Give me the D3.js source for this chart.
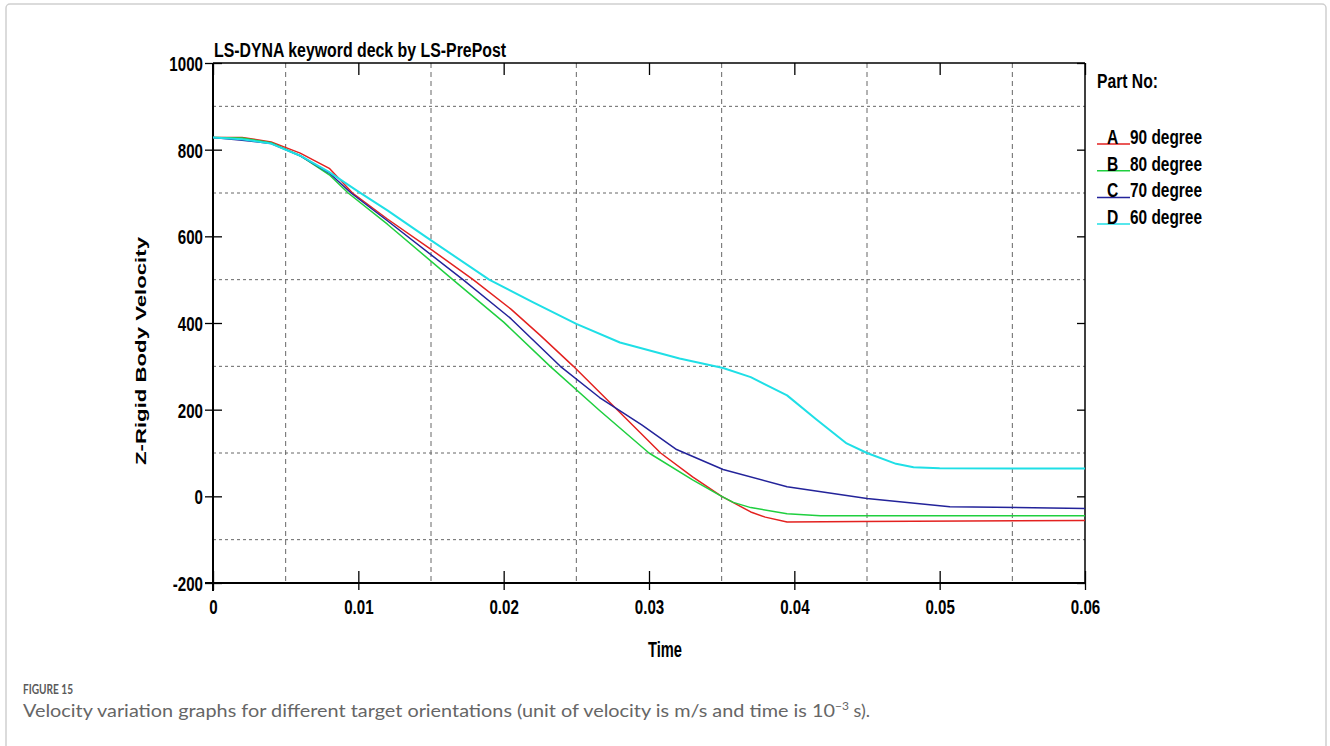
<!DOCTYPE html>
<html>
<head>
<meta charset="utf-8">
<script src="https://cdn.jsdelivr.net/npm/d3@7"></script>
<style>
  body { margin: 0; background: #fff; }
  .narrow { font-family: "Liberation Sans", Arial, sans-serif; font-weight: bold; }
</style>
</head>
<body>
<div id="chart"></div>
<script>
// values
var seriesNames = ["A", "B", "C", "D"];
var seriesLabels = ["90 degree", "80 degree", "70 degree", "60 degree"];
var seriesColors = ["#e3211f", "#1fcf3f", "#23239a", "#1fdfe6"];

var timeA = [0, 0.002, 0.004, 0.006, 0.008, 0.0096, 0.012, 0.015, 0.0179, 0.0205, 0.0225, 0.0248, 0.0275, 0.0308, 0.033, 0.035, 0.036, 0.037, 0.038, 0.0395, 0.0446, 0.06];
var velA  = [828, 828, 818, 792, 757, 700, 640, 570, 500, 432, 372, 300, 210, 100, 45, 0, -18, -36, -48, -59, -58, -56];

var timeB = [0, 0.002, 0.004, 0.006, 0.008, 0.0093, 0.012, 0.0165, 0.020, 0.0232, 0.0266, 0.030, 0.033, 0.035, 0.0358, 0.037, 0.0395, 0.0418, 0.06];
var velB  = [828, 827, 816, 786, 742, 700, 628, 500, 402, 300, 198, 100, 38, 0, -14, -26, -40, -45, -45];

var timeC = [0, 0.002, 0.004, 0.006, 0.008, 0.0095, 0.012, 0.0172, 0.0205, 0.0239, 0.0266, 0.0295, 0.0319, 0.0351, 0.0395, 0.045, 0.0507, 0.06];
var velC  = [828, 822, 814, 786, 746, 700, 636, 500, 410, 300, 228, 165, 108, 62, 22, -5, -24, -28];

var timeD = [0, 0.002, 0.004, 0.006, 0.008, 0.010, 0.012, 0.0146, 0.019, 0.022, 0.025, 0.028, 0.0321, 0.0351, 0.037, 0.0395, 0.0415, 0.0436, 0.045, 0.047, 0.0482, 0.050, 0.06];
var velD  = [828, 824, 814, 786, 748, 703, 660, 600, 500, 448, 398, 355, 318, 296, 275, 233, 178, 122, 100, 75, 67, 65, 64];

var xTicks = [0, 0.01, 0.02, 0.03, 0.04, 0.05, 0.06];
var yTicks = [-200, 0, 200, 400, 600, 800, 1000];
var xGrid = [0.005, 0.015, 0.025, 0.035, 0.045, 0.055];
var yGrid = [-100, 100, 300, 500, 700, 900];

var allTimes = [timeA, timeB, timeC, timeD];
var allVels = [velA, velB, velC, velD];

var width = 1330, height = 746;
var plotL = 213, plotR = 1085, plotT = 63, plotB = 583;

var svg = d3.select("#chart").append("svg")
    .attr("width", width)
    .attr("height", height);

// squeeze a bold text horizontally, the plot uses a condensed face
function squeeze(sel, factor) {
    sel.each(function () {
        var w = this.getComputedTextLength();
        d3.select(this).attr("textLength", w * factor).attr("lengthAdjust", "spacingAndGlyphs");
    });
}

// outer figure frame
svg.append("rect")
    .attr("x", 6).attr("y", 4)
    .attr("width", 1320).attr("height", 760)
    .attr("rx", 4)
    .attr("fill", "none")
    .attr("stroke", "#cfcfcf")
    .attr("stroke-width", 1.5);

var x = d3.scaleLinear().domain([0, 0.06]).range([plotL, plotR]);
var y = d3.scaleLinear().domain([-200, 1000]).range([plotB, plotT]);

// dashed grid
svg.selectAll(".hgrid").data(yGrid).enter().append("line")
    .attr("x1", plotL).attr("x2", plotR)
    .attr("y1", function (d) { return y(d); })
    .attr("y2", function (d) { return y(d); })
    .attr("stroke", "#666")
    .attr("stroke-width", 1)
    .attr("stroke-dasharray", "3,3");

svg.selectAll(".vgrid").data(xGrid).enter().append("line")
    .attr("y1", plotT).attr("y2", plotB)
    .attr("x1", function (d) { return x(d); })
    .attr("x2", function (d) { return x(d); })
    .attr("stroke", "#666")
    .attr("stroke-width", 1)
    .attr("stroke-dasharray", "5,4");

// axes: left/bottom carry labels, top/right only inner ticks
var yAxis = d3.axisLeft(y).tickValues(yTicks).tickSizeInner(-9).tickSizeOuter(0).tickPadding(0).tickFormat(function (d) { return String(d); });
var yAx = svg.append("g").attr("transform", "translate(" + plotL + ",0)").call(yAxis);
yAx.selectAll(".tick line").attr("x1", -8).attr("x2", 9);
yAx.selectAll(".tick text").attr("x", -10).attr("dy", "0.36em");

var xAxis = d3.axisBottom(x).tickValues(xTicks).tickSizeInner(-12).tickSizeOuter(0).tickPadding(0).tickFormat(function (d) { return d === 0 ? "0" : d3.format(".2f")(d); });
var xAx = svg.append("g").attr("transform", "translate(0," + plotB + ")").call(xAxis);
xAx.selectAll(".tick line").attr("y1", -12).attr("y2", 7);
xAx.selectAll(".tick text").attr("y", 31).attr("dy", 0);

var yRight = d3.axisLeft(y).tickValues(yTicks).tickSize(8).tickSizeOuter(0).tickFormat("");
svg.append("g").attr("transform", "translate(" + plotR + ",0)").call(yRight);

var xTop = d3.axisBottom(x).tickValues(xTicks).tickSize(12).tickSizeOuter(0).tickFormat("");
svg.append("g").attr("transform", "translate(0," + plotT + ")").call(xTop);

svg.selectAll(".domain").remove();
svg.selectAll(".tick line").attr("stroke", "#000").attr("stroke-width", 1.3);
svg.selectAll(".tick text")
    .attr("class", "narrow")
    .style("font-size", "21px")
    .attr("fill", "#000")
    .call(squeeze, 0.72);

// plot frame
svg.append("line").attr("x1", plotL).attr("x2", plotR).attr("y1", plotT).attr("y2", plotT).attr("stroke", "#000").attr("stroke-width", 1.5);
svg.append("line").attr("x1", plotR).attr("x2", plotR).attr("y1", plotT).attr("y2", plotB).attr("stroke", "#000").attr("stroke-width", 1.5);
svg.append("line").attr("x1", plotL).attr("x2", plotL).attr("y1", plotT).attr("y2", plotB + 8).attr("stroke", "#000").attr("stroke-width", 2);
svg.append("line").attr("x1", plotL - 8).attr("x2", plotR).attr("y1", plotB).attr("y2", plotB).attr("stroke", "#000").attr("stroke-width", 2);

// curves
var line = d3.line()
    .x(function (d) { return x(d[0]); })
    .y(function (d) { return y(d[1]); });

var curves = seriesNames.map(function (name, i) {
    return { name: name, color: seriesColors[i], points: d3.zip(allTimes[i], allVels[i]) };
});

svg.selectAll(".curve").data(curves).enter().append("path")
    .attr("d", function (d) { return line(d.points); })
    .attr("fill", "none")
    .attr("stroke", function (d) { return d.color; })
    .attr("stroke-width", function (d) { return d.name === "D" ? 2 : 1.5; })
    .attr("stroke-linejoin", "round");

// title and axis titles
svg.append("text")
    .attr("class", "narrow")
    .attr("x", 214).attr("y", 57)
    .style("font-size", "20px")
    .text("LS-DYNA keyword deck by LS-PrePost")
    .attr("textLength", 292).attr("lengthAdjust", "spacingAndGlyphs");

svg.append("text")
    .attr("class", "narrow")
    .attr("x", 648).attr("y", 657)
    .style("font-size", "22px")
    .text("Time")
    .attr("textLength", 34).attr("lengthAdjust", "spacingAndGlyphs");

svg.append("text")
    .attr("transform", "translate(146,351) rotate(-90)")
    .attr("text-anchor", "middle")
    .style("font-family", "'Liberation Sans', Arial, sans-serif")
    .style("font-weight", "bold")
    .style("font-size", "15px")
    .text("Z-Rigid Body Velocity")
    .attr("textLength", 228).attr("lengthAdjust", "spacingAndGlyphs");

// legend
svg.append("text")
    .attr("class", "narrow")
    .attr("x", 1097).attr("y", 88)
    .style("font-size", "20px")
    .text("Part No:")
    .attr("textLength", 61).attr("lengthAdjust", "spacingAndGlyphs");

var legend = svg.selectAll(".leg").data(curves).enter().append("g")
    .attr("transform", function (d, i) { return "translate(1097," + (144 + i * 26.7) + ")"; });

legend.append("line")
    .attr("x1", 0).attr("x2", 33).attr("y1", 0).attr("y2", 0)
    .attr("stroke", function (d) { return d.color; })
    .attr("stroke-width", 1.5);

legend.append("text")
    .attr("class", "narrow")
    .attr("x", 10).attr("y", 0)
    .style("font-size", "20px")
    .text(function (d) { return d.name; })
    .call(squeeze, 0.78);

legend.append("text")
    .attr("class", "narrow")
    .attr("x", 33).attr("y", 0)
    .style("font-size", "20px")
    .text(function (d, i) { return seriesLabels[i]; })
    .attr("textLength", 72).attr("lengthAdjust", "spacingAndGlyphs");

// caption
svg.append("text")
    .attr("x", 23).attr("y", 694)
    .style("font-family", "Lato, 'Open Sans', sans-serif")
    .style("font-weight", "bold")
    .style("font-size", "13px")
    .attr("fill", "#5a5a5a")
    .text("FIGURE 15")
    .attr("textLength", 50).attr("lengthAdjust", "spacingAndGlyphs");

var cap = svg.append("text")
    .attr("x", 23).attr("y", 717)
    .style("font-family", "Lato, 'Open Sans', sans-serif")
    .style("font-size", "18px")
    .attr("fill", "#666");
cap.append("tspan").text("Velocity variation graphs for different target orientations (unit of velocity is m/s and time is 10")
    .attr("textLength", 812).attr("lengthAdjust", "spacingAndGlyphs");
cap.append("tspan").attr("dy", -7).style("font-size", "12px").text("\u22123");
cap.append("tspan").attr("dy", 7).text(" s).");
</script>
</body>
</html>
